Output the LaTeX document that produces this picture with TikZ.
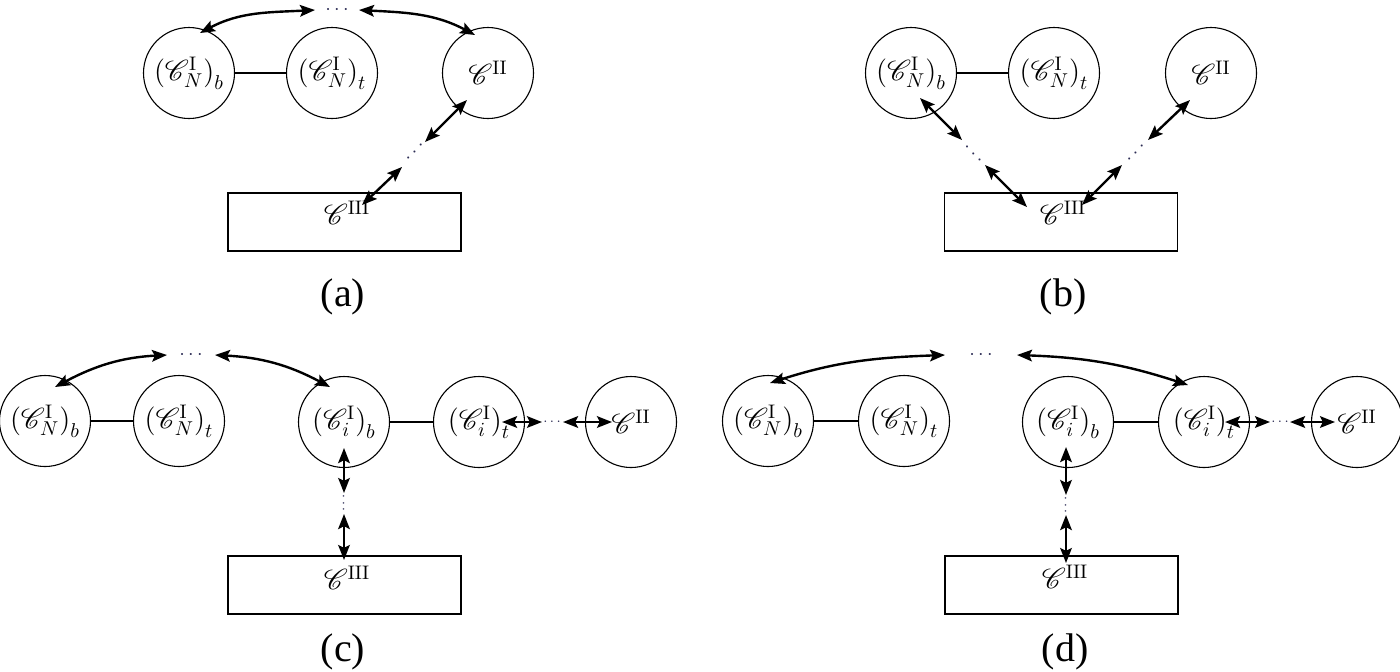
\documentclass[tikz,border=0pt]{standalone}
\usepackage{mathrsfs}
\usepackage{fontspec}
\newfontfamily\labfont{Liberation Serif}
\usetikzlibrary{arrows.meta,calc}
\definecolor{dotc}{RGB}{45,45,85}
\newcommand\CNb{$\bigl(\mathscr{C}_N^{\mathrm{I}}\bigr)_b$}
\newcommand\CNt{$\bigl(\mathscr{C}_N^{\mathrm{I}}\bigr)_t$}
\newcommand\Cib{$\bigl(\mathscr{C}_i^{\mathrm{I}}\bigr)_b$}
\newcommand\Cit{$\bigl(\mathscr{C}_i^{\mathrm{I}}\bigr)_t$}
\newcommand\CII{$\mathscr{C}^{\mathrm{II}}$}
\newcommand\CIII{$\mathscr{C}^{\mathrm{III}}$}
\tikzset{
  cnode/.style={circle, draw, line width=0.55pt, minimum size=45.5pt, inner sep=0pt, font=\fontsize{14}{16}\selectfont},
  rbox/.style={draw, line width=0.55pt, minimum width=116.5pt, minimum height=29pt, inner sep=0pt},
  btext/.style={inner sep=0pt, font=\fontsize{14}{16}\selectfont},
  arr/.style={<->, line width=1.2pt, >={Stealth[length=7.5pt,width=5.8pt,inset=1.4pt]}},
  conn/.style={line width=1pt},
  dotsn/.style={inner sep=0pt, text=dotc, font=\fontsize{10}{12}\selectfont},
  sublab/.style={inner sep=0pt, font=\labfont\fontsize{20}{22}\selectfont}
}
\begin{document}
\begin{tikzpicture}[x=0.5pt,y=0.5pt]
\useasboundingbox (0,0) rectangle (1400,-671);
% ---------------- (a)
\node[cnode] (Nba) at (189,-73) {\CNb};
\node[cnode] (Nta) at (332,-73) {\CNt};
\node[cnode] (IIa) at (488,-73) {\CII};
\node[rbox] (Ra) at (344.5,-222) {};
\node[btext] (Ta) at (347,-213) {\CIII};
\node[dotsn] (da) at (337,-10) {$\cdots$};
\node[dotsn, rotate=45] (dda) at (415,-152) {$\cdots$};
\draw[conn] (Nba) -- (Nta);
\draw[arr] ($(da)+(-22,0)$) to[out=183,in=28] ($(Nba)+(11,40)$);
\draw[arr] ($(da)+(22,0)$) to[out=-3,in=152] ($(IIa)+(-13,38)$);
\draw[arr] ($(IIa)+(-21,-27)$) -- ($(dda)+(10,10)$);
\draw[arr] ($(dda)+(-13,-15)$) -- ($(Ra)+(17.5,17)$);
\node[sublab] (la) at (343,-297) {(a)};
% ---------------- (b)
\node[cnode] (Nbb) at (911,-73) {\CNb};
\node[cnode] (Ntb) at (1054,-73) {\CNt};
\node[cnode] (IIb) at (1211,-73) {\CII};
\node[rbox] (Rb) at (1061,-222) {};
\node[btext] (Tb) at (1063,-213) {\CIII};
\node[dotsn, rotate=-45] (db1) at (973,-154) {$\cdots$};
\node[dotsn, rotate=45] (db2) at (1136,-153) {$\cdots$};
\draw[conn] (Nbb) -- (Ntb);
\draw[arr] ($(Nbb)+(9,-25)$) -- ($(db1)+(-11,14)$);
\draw[arr] ($(db1)+(12,-11)$) -- ($(Rb)+(-34,15)$);
\draw[arr] ($(IIb)+(-21,-27)$) -- ($(db2)+(12,13)$);
\draw[arr] ($(db2)+(-14,-12)$) -- ($(Rb)+(21,17)$);
\node[sublab] (lb) at (1063,-297) {(b)};
% ---------------- (c)
\node[cnode] (Nbc) at (45,-421) {\CNb};
\node[cnode] (Ntc) at (179,-421) {\CNt};
\node[cnode] (Ibc) at (344,-422) {\Cib};
\node[cnode] (Itc) at (479,-422) {\Cit};
\node[cnode] (IIc) at (631,-422) {\CII};
\node[rbox] (Rc) at (344.5,-585) {};
\node[btext] (Tc) at (347,-578) {\CIII};
\node[dotsn] (dc) at (191,-355) {$\cdots$};
\node[dotsn, scale=0.75] (dhc) at (552,-422) {$\cdots$};
\node[dotsn, rotate=90, scale=0.75] (dvc) at (344,-503) {$\cdots$};
\draw[conn] (Nbc) -- (Ntc);
\draw[conn] (Ibc) -- (Itc);
\draw[arr] ($(dc)+(-24,0)$) to[out=183,in=28] ($(Nbc)+(10,34)$);
\draw[arr] ($(dc)+(24,0)$) to[out=-3,in=152] ($(Ibc)+(-14,35)$);
\draw[arr] ($(Itc)+(23,0)$) -- ($(dhc)+(-10,0)$);
\draw[arr] ($(dhc)+(11,0)$) -- ($(IIc)+(-19,0)$);
\draw[arr] ($(Ibc)+(0,-26)$) -- ($(dvc)+(0,10)$);
\draw[arr] ($(dvc)+(0,-11)$) -- ($(Rc)+(-0.5,25)$);
\node[sublab] (lc) at (343,-652) {(c)};
% ---------------- (d)
\node[cnode] (Nbd) at (768,-421) {\CNb};
\node[cnode] (Ntd) at (904,-421) {\CNt};
\node[cnode] (Ibd) at (1068,-422) {\Cib};
\node[cnode] (Itd) at (1204,-422) {\Cit};
\node[cnode] (IId) at (1357,-422) {\CII};
\node[rbox] (Rd) at (1061.5,-585) {};
\node[btext] (Td) at (1065,-577) {\CIII};
\node[dotsn] (dd) at (981,-355) {$\cdots$};
\node[dotsn, scale=0.75] (dhd) at (1280,-422) {$\cdots$};
\node[dotsn, rotate=90, scale=0.75] (dvd) at (1066,-505) {$\cdots$};
\draw[conn] (Nbd) -- (Ntd);
\draw[conn] (Ibd) -- (Itd);
\draw[arr] ($(dd)+(-36,0)$) to[out=182,in=18] ($(Nbd)+(2,38)$);
\draw[arr] ($(dd)+(36,0)$) to[out=-2,in=162] ($(Itd)+(-16,37)$);
\draw[arr] ($(Itd)+(21,0)$) -- ($(dhd)+(-10,0)$);
\draw[arr] ($(dhd)+(10,0)$) -- ($(IId)+(-22,0)$);
\draw[arr] ($(Ibd)+(-2,-25)$) -- ($(dvd)+(0,10)$);
\draw[arr] ($(dvd)+(0,-10)$) -- ($(Rd)+(4.5,22)$);
\node[sublab] (ld) at (1065,-652) {(d)};
\end{tikzpicture}
\end{document}
